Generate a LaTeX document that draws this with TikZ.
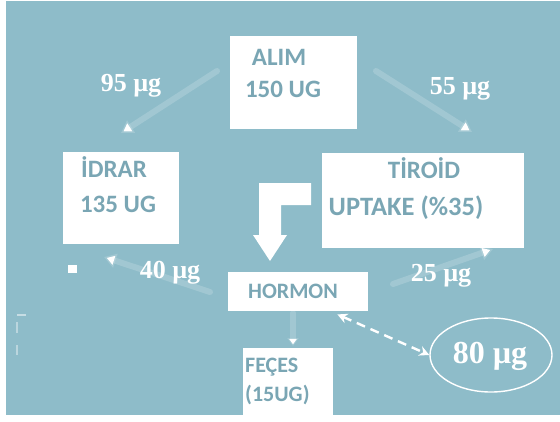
\documentclass[tikz,border=0pt]{standalone}
\usepackage{fontspec}
\setmainfont{Liberation Serif}
\newfontfamily\boxfont{Carlito}
\usetikzlibrary{shapes.geometric,arrows.meta}
\definecolor{panel}{RGB}{142,188,201}
\definecolor{boxtext}{RGB}{122,166,180}
\tikzset{
  card/.style={fill=white, draw=none, inner sep=0pt, anchor=north west},
  cardtext/.style={text=boxtext, inner sep=0pt, font=\boxfont\bfseries\fontsize{25}{30}\selectfont},
  smallcardtext/.style={cardtext, font=\boxfont\bfseries\fontsize{22}{26}\selectfont},
  amount/.style={text=white, inner sep=0pt, font=\bfseries\fontsize{26}{29}\selectfont},
  faint/.style={draw=white, draw opacity=0.17, line width=6pt, line cap=round,
    -{Triangle[width=14pt,length=12pt]}},
}
\begin{document}
\begin{tikzpicture}[x=1pt,y=-1pt]
\useasboundingbox (0,0) rectangle (560,421);
\fill[white] (0,0) rectangle (560,421);
\fill[panel] (6,1) rectangle (560,415);

% boxes
\node[card, minimum width=127pt, minimum height=93pt] (alim) at (230,36) {};
\node[card, minimum width=116pt, minimum height=92pt] (idrar) at (63,152) {};
\node[card, minimum width=202pt, minimum height=95pt] (tiroid) at (322,153) {};
\node[card, minimum width=140pt, minimum height=39pt] (hormon) at (228,272) {};
\node[card, minimum width=90pt, minimum height=67pt] (feces) at (243,348) {};

% box texts
\node[cardtext] (alimA) at (279,57) {ALIM};
\node[cardtext] (alimB) at (283,89) {150 UG};
\node[cardtext] (idrarA) at (114,167) {İDRAR};
\node[cardtext] (idrarB) at (118,204) {135 UG};
\node[cardtext] (tirA) at (424,168) {TİROİD};
\node[cardtext, font=\boxfont\bfseries\fontsize{26.5}{30}\selectfont] (tirB) at (406,208) {UPTAKE (\%35)};
\node[smallcardtext] (horm) at (293,291) {HORMON};
\node[smallcardtext, anchor=west] (fecA) at (245,367) {FEÇES};
\node[smallcardtext, anchor=west] (fecB) at (245,395) {(15UG)};

% flow amounts
\node[amount] (l95) at (131,86) {95 µg};
\node[amount] (l55) at (460,89) {55 µg};
\node[amount] (l40) at (170,273) {40 µg};
\node[amount] (l25) at (441,276) {25 µg};

% pale flow arrows
\coordinate (a1s) at (217,71);  \coordinate (a1e) at (121,133);
\coordinate (a2s) at (376,71);  \coordinate (a2e) at (472,132);
\coordinate (a3s) at (210,292); \coordinate (a3e) at (104,257);
\coordinate (a4s) at (393,284); \coordinate (a4e) at (493,249);
\coordinate (a5s) at (293,313); \coordinate (a5e) at (293,346);
\draw[faint] (a1s) -- (a1e);
\draw[faint] (a2s) -- (a2e);
\draw[faint] (a3s) -- (a3e);
\draw[faint] (a4s) -- (a4e);
\draw[faint, -{Triangle[width=11pt,length=8pt]}] (a5s) -- (a5e);

% bent block arrow from the thyroid box down to the hormone box
\fill[white] (311,183) -- (259,183) -- (259,235) -- (253,235) -- (270,261)
  -- (287,235) -- (281,235) -- (281,205) -- (311,205) -- cycle;

% circulating pool
\node[ellipse, draw=white, line width=1.4pt, minimum width=122pt, minimum height=74pt,
  inner sep=0pt] (pool) at (491,355) {};
\node[text=white, inner sep=0pt, font=\bfseries\fontsize{32}{36}\selectfont] (poolt) at (490,356) {80 µg};
\draw[white, line width=2.4pt, dash pattern=on 9pt off 6pt,
  {Stealth[length=10pt,width=10pt]}-{Stealth[length=10pt,width=10pt]}]
  (hormon.south east) ++(-31,3) -- (pool.west);

% small stray marks
\fill[white] (68,265) rectangle (77,273);
\fill[white, opacity=0.5] (17,314) rectangle (26,316);
\fill[white, opacity=0.4] (16,322) rectangle (18,333);
\fill[white, opacity=0.4] (16,345) rectangle (18,355);
\end{tikzpicture}
\end{document}
